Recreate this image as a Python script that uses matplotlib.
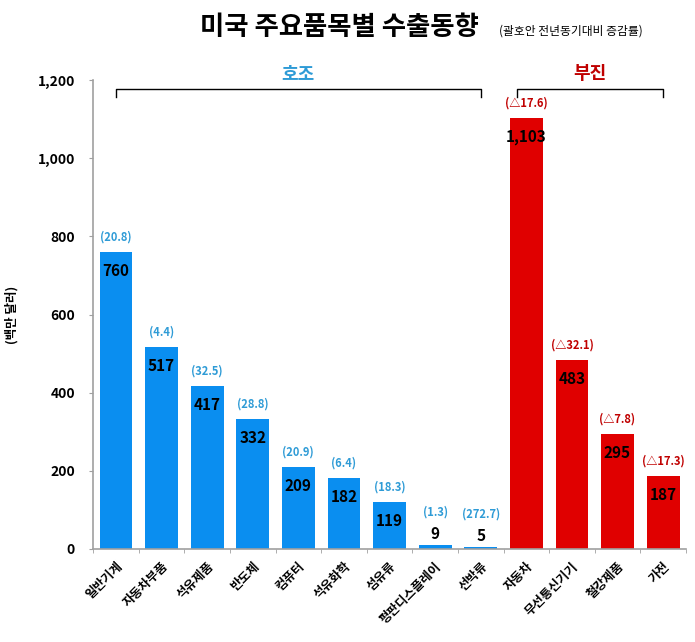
import numpy as np
import matplotlib.pyplot as plt
from matplotlib.ticker import FuncFormatter, MultipleLocator

plt.rcParams['font.family'] = ['Noto Sans CJK KR', 'DejaVu Sans']

# 품목별 수출액 (백만 달러) 및 전년동기대비 증감률
items = ['일반기계', '자동차부품', '석유제품', '반도체', '컴퓨터', '석유화학', '섬유류',
         '평판디스플레이', '선박류', '자동차', '무선통신기기', '철강제품', '가전']
values = [760, 517, 417, 332, 209, 182, 119, 9, 5, 1103, 483, 295, 187]
changes = ['(20.8)', '(4.4)', '(32.5)', '(28.8)', '(20.9)', '(6.4)', '(18.3)', '(1.3)',
           '(272.7)', '(△17.6)', '(△32.1)', '(△7.8)', '(△17.3)']
n_good = 9  # 호조 품목 수

blue = '#0A8EF0'
red = '#E00000'
blue_txt = '#2E9BD6'
red_txt = '#C00000'

fig = plt.figure(figsize=(6.95, 6.42), dpi=100)
ax = fig.add_axes([0.134, 0.145, 0.853, 0.73])

x = np.arange(len(items))
colors = [blue if i < n_good else red for i in range(len(items))]
ax.bar(x, values, width=0.72, color=colors, zorder=2)

for i, v in enumerate(values):
    tc = blue_txt if i < n_good else red_txt
    if v > 100:
        ax.text(i, v + 22, changes[i], ha='center', va='bottom', fontsize=8,
                fontweight='bold', color=tc)
        ax.text(i, v - 28, f'{v:,}', ha='center', va='top', fontsize=11,
                fontweight='bold', color='black')
    else:
        # 막대가 짧으면 값과 증감률을 막대 위에 쌓음
        ax.text(i, v + 8, f'{v:,}', ha='center', va='bottom', fontsize=11,
                fontweight='bold', color='black')
        ax.text(i, v + 68, changes[i], ha='center', va='bottom', fontsize=8,
                fontweight='bold', color=tc)

ax.set_xlim(-0.5, len(items) - 0.5)
ax.set_ylim(0, 1200)
ax.yaxis.set_major_locator(MultipleLocator(200))
ax.yaxis.set_major_formatter(FuncFormatter(lambda v, p: f'{int(v):,}'))
for lab in ax.get_yticklabels():
    lab.set_fontweight('bold')
ax.tick_params(axis='y', labelsize=10, length=3, color='#A0A0A0', pad=10)

ax.set_xticks(x)
ax.set_xticklabels(items, rotation=45, ha='right', rotation_mode='anchor',
                   fontsize=9, fontweight='bold')
ax.set_xticks(np.arange(-0.5, len(items)), minor=True)
ax.tick_params(axis='x', which='major', length=0, pad=8)
ax.tick_params(axis='x', which='minor', length=3, color='#A0A0A0')

for s in ['top', 'right']:
    ax.spines[s].set_visible(False)
ax.spines['left'].set_color('#A0A0A0')
ax.spines['bottom'].set_color('#A0A0A0')
ax.spines['left'].set_linewidth(1.2)
ax.spines['bottom'].set_linewidth(1.2)

ax.set_ylabel('(백만 달러)', fontsize=9, fontweight='bold', labelpad=14)

# 호조 / 부진 구간 표시
def bracket(x0, x1, label, color):
    ax.plot([x0, x0, x1, x1], [1158, 1177, 1177, 1158], color='black', lw=1,
            clip_on=False)
    ax.text((x0 + x1) / 2, 1218, label, ha='center', va='center', fontsize=13,
            fontweight='bold', color=color, clip_on=False)

bracket(0, 8, '호조', blue_txt)
bracket(8.8, 12, '부진', red_txt)

fig.text(0.288, 0.957, '미국 주요품목별 수출동향', fontsize=19, fontweight='bold',
         ha='left', va='center')
fig.text(0.718, 0.952, '(괄호안 전년동기대비 증감률)', fontsize=8.5, ha='left', va='center')

fig.savefig('out.png', dpi=100)
